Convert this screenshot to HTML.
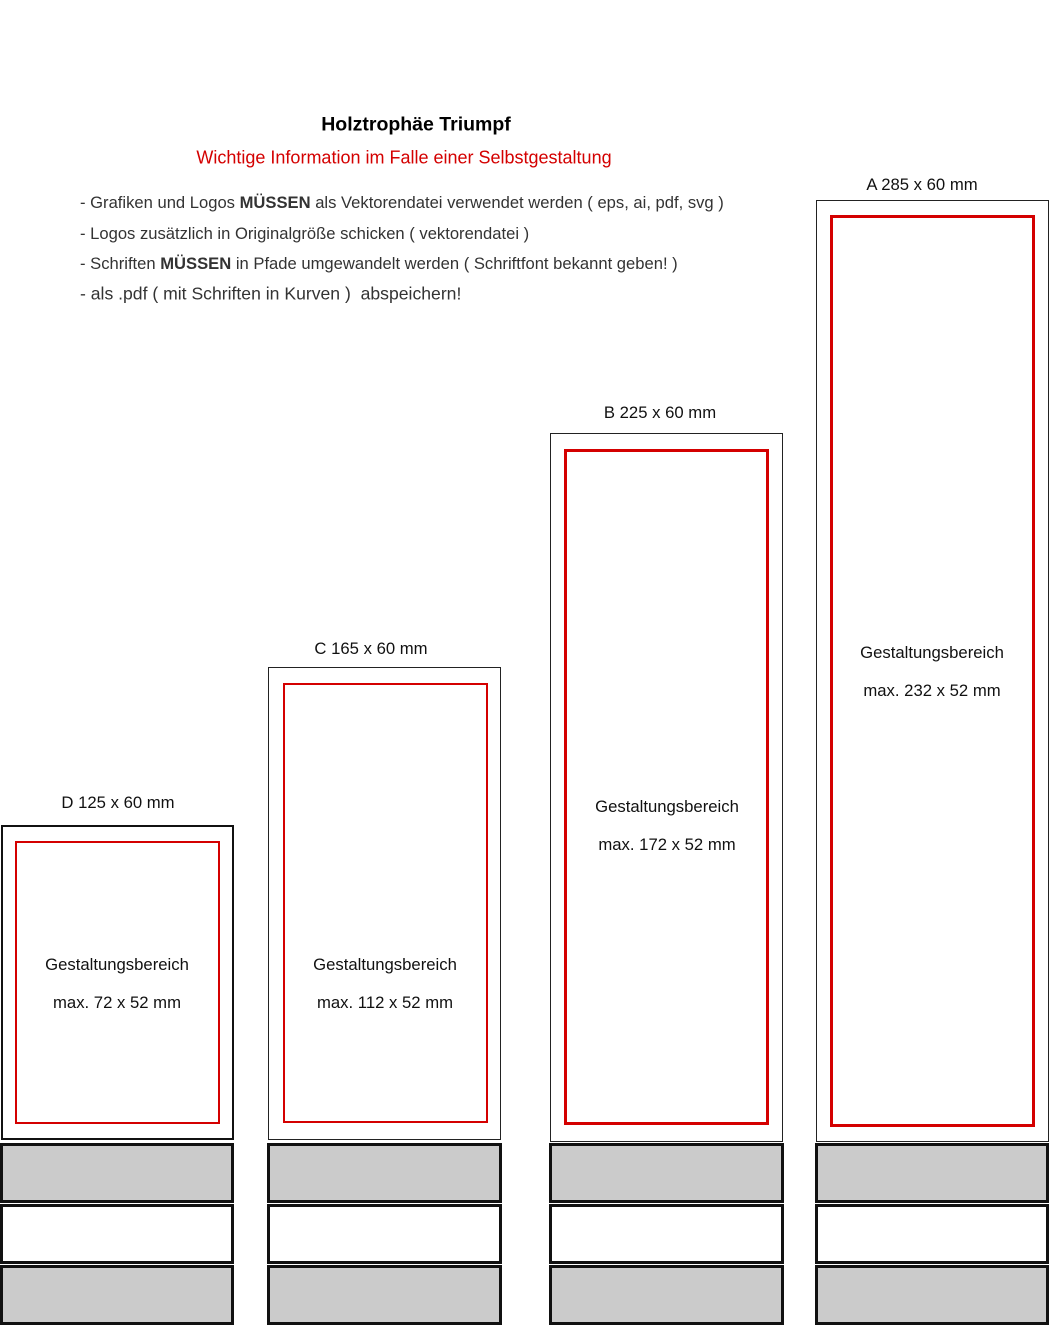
<!DOCTYPE html>
<html><head><meta charset="utf-8"><style>
body{margin:0;width:1049px;height:1323px;position:relative;background:#fff;font-family:"Liberation Sans",sans-serif;overflow:hidden}
.a{position:absolute;box-sizing:border-box}
.t{position:absolute;white-space:nowrap;transform:translate(-50%,-50%);font-size:16.7px;color:#111}
.l{position:absolute;white-space:nowrap;transform:translateY(-50%);font-size:16.6px;color:#333}
.g{background:#cbcbcb;border:3px solid #111}
.w{background:#fff;border:3px solid #111}
</style></head><body>
<div class="t" style="left:416px;top:125px;font-size:19.5px;font-weight:bold;color:#000">Holztrophäe Triumpf</div>
<div class="t" style="left:404px;top:158px;font-size:18px;color:#d40000">Wichtige Information im Falle einer Selbstgestaltung</div>
<div class="l" style="left:80px;top:203px">- Grafiken und Logos <b>MÜSSEN</b> als Vektorendatei verwendet werden ( eps, ai, pdf, svg )</div>
<div class="l" style="left:80px;top:234px">- Logos zusätzlich in Originalgröße schicken ( vektorendatei )</div>
<div class="l" style="left:80px;top:264px">- Schriften <b>MÜSSEN</b> in Pfade umgewandelt werden ( Schriftfont bekannt geben! )</div>
<div class="l" style="left:80px;top:294px;font-size:17.6px">- als .pdf ( mit Schriften in Kurven )&nbsp; abspeichern!</div>

<div class="t" style="left:118px;top:803px">D 125 x 60 mm</div>
<div class="a" style="left:1px;top:825px;width:233px;height:315px;border:2px solid #111"></div>
<div class="a" style="left:15px;top:841px;width:205px;height:283px;border:2px solid #d40000"></div>
<div class="t" style="left:117px;top:965px">Gestaltungsbereich</div>
<div class="t" style="left:117px;top:1003px">max. 72 x 52 mm</div>

<div class="t" style="left:371px;top:649px">C 165 x 60 mm</div>
<div class="a" style="left:268px;top:667px;width:233px;height:473px;border:1px solid #222"></div>
<div class="a" style="left:283px;top:683px;width:205px;height:440px;border:2px solid #d40000"></div>
<div class="t" style="left:385px;top:965px">Gestaltungsbereich</div>
<div class="t" style="left:385px;top:1003px">max. 112 x 52 mm</div>

<div class="t" style="left:660px;top:413px">B 225 x 60 mm</div>
<div class="a" style="left:550px;top:433px;width:233px;height:709px;border:1px solid #222"></div>
<div class="a" style="left:564px;top:449px;width:205px;height:676px;border:3px solid #d40000"></div>
<div class="t" style="left:667px;top:807px">Gestaltungsbereich</div>
<div class="t" style="left:667px;top:845px">max. 172 x 52 mm</div>

<div class="t" style="left:922px;top:185px">A 285 x 60 mm</div>
<div class="a" style="left:816px;top:200px;width:233px;height:942px;border:1px solid #222"></div>
<div class="a" style="left:830px;top:215px;width:205px;height:912px;border:3px solid #d40000"></div>
<div class="t" style="left:932px;top:653px">Gestaltungsbereich</div>
<div class="t" style="left:932px;top:691px">max. 232 x 52 mm</div>

<div class="a g" style="left:0px;top:1143px;width:234px;height:60px"></div>
<div class="a w" style="left:0px;top:1204px;width:234px;height:60px"></div>
<div class="a g" style="left:0px;top:1265px;width:234px;height:60px"></div>
<div class="a g" style="left:267px;top:1143px;width:235px;height:60px"></div>
<div class="a w" style="left:267px;top:1204px;width:235px;height:60px"></div>
<div class="a g" style="left:267px;top:1265px;width:235px;height:60px"></div>
<div class="a g" style="left:549px;top:1143px;width:235px;height:60px"></div>
<div class="a w" style="left:549px;top:1204px;width:235px;height:60px"></div>
<div class="a g" style="left:549px;top:1265px;width:235px;height:60px"></div>
<div class="a g" style="left:815px;top:1143px;width:234px;height:60px"></div>
<div class="a w" style="left:815px;top:1204px;width:234px;height:60px"></div>
<div class="a g" style="left:815px;top:1265px;width:234px;height:60px"></div>
</body></html>
